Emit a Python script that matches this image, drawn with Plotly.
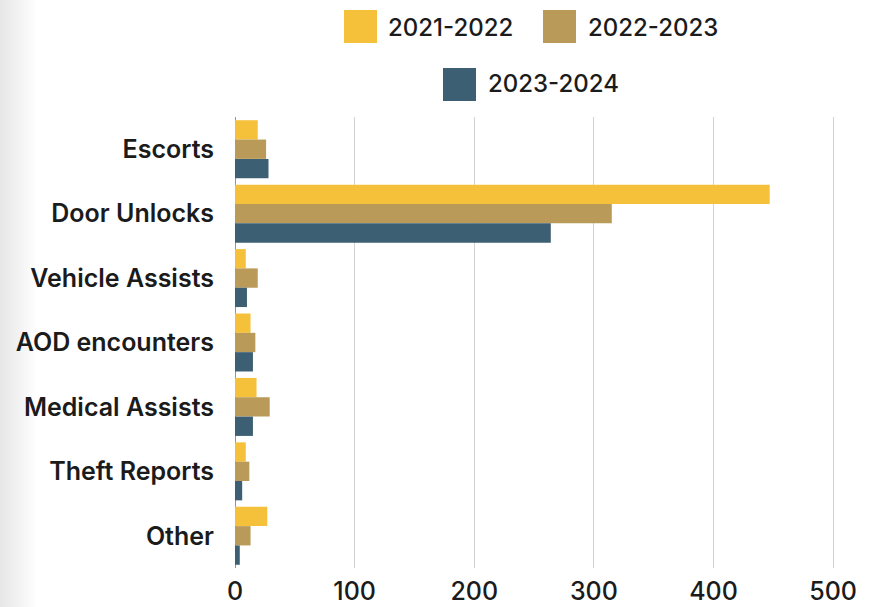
import plotly.graph_objects as go

# Incident categories and counts per academic year
categories = ["Escorts", "Door Unlocks", "Vehicle Assists", "AOD encounters",
              "Medical Assists", "Theft Reports", "Other"]
series_names = ["2021-2022", "2022-2023", "2023-2024"]
values_2021_2022 = [19, 447, 9, 13, 18, 9, 27]
values_2022_2023 = [26, 315, 19, 17, 29, 12, 13]
values_2023_2024 = [28, 264, 10, 15, 15, 6, 4]
x_ticks = [0, 100, 200, 300, 400, 500]

colors = ["#F5C13A", "#B99A58", "#3C5F74"]
series_values = [values_2021_2022, values_2022_2023, values_2023_2024]

W, H = 874, 607
L, R, T, B = 235, 11, 117, 39
plot_w = W - L - R
plot_h = H - T - B

FONT = "Inter"
TEXT = "#1b1b1b"

fig = go.Figure()
for name, vals, col in zip(series_names, series_values, colors):
    fig.add_trace(go.Bar(
        y=categories, x=vals, name=name, orientation="h",
        marker=dict(color=col, line=dict(width=0)),
        showlegend=False,
    ))


def px_x(p):
    return (p - L) / plot_w


def px_y(p):
    return (H - B - p) / plot_h


shapes = []
annotations = []

# soft grey shading along the left edge
for i in range(12):
    w = 3 * (i + 1)
    shapes.append(dict(type="rect", xref="paper", yref="paper",
                       x0=px_x(0), x1=px_x(w), y0=px_y(H), y1=px_y(0),
                       fillcolor="#9a9a9a", opacity=0.022, line=dict(width=0),
                       layer="below"))

# legend: large colour squares with labels, two rows
legend_items = [
    (344, 10, 386, 27),
    (543, 10, 586, 27),
    (443, 68, 486, 84),
]
for (sx, sy, tx, ty), name, col in zip(legend_items, series_names, colors):
    shapes.append(dict(type="rect", xref="paper", yref="paper",
                       x0=px_x(sx), x1=px_x(sx + 33), y0=px_y(sy + 33), y1=px_y(sy),
                       fillcolor=col, line=dict(width=0)))
    annotations.append(dict(xref="paper", yref="paper", x=px_x(tx), y=px_y(ty),
                            text=name, showarrow=False, xanchor="left", yanchor="middle",
                            font=dict(family=FONT, size=24, color=TEXT, weight=500)))

fig.update_layout(
    width=W, height=H,
    margin=dict(l=L, r=R, t=T, b=B, pad=0, autoexpand=False),
    paper_bgcolor="white", plot_bgcolor="white",
    barmode="group", bargap=0.1, bargroupgap=0.0,
    shapes=shapes, annotations=annotations,
    showlegend=False,
    xaxis=dict(range=[0, 525], tickvals=x_ticks, showgrid=True,
               gridcolor="#d2d2d2", gridwidth=1, zeroline=True,
               zerolinecolor="#8a96a0", zerolinewidth=1, showline=False,
               ticks="", ticklabelstandoff=6, automargin=False,
               tickfont=dict(family=FONT, size=25, color=TEXT, weight=500)),
    yaxis=dict(autorange="reversed", showgrid=False, ticks="", showline=False,
               ticklabelstandoff=20, automargin=False,
               tickfont=dict(family=FONT, size=25, color=TEXT, weight=600)),
)

fig.write_html("out.html")
